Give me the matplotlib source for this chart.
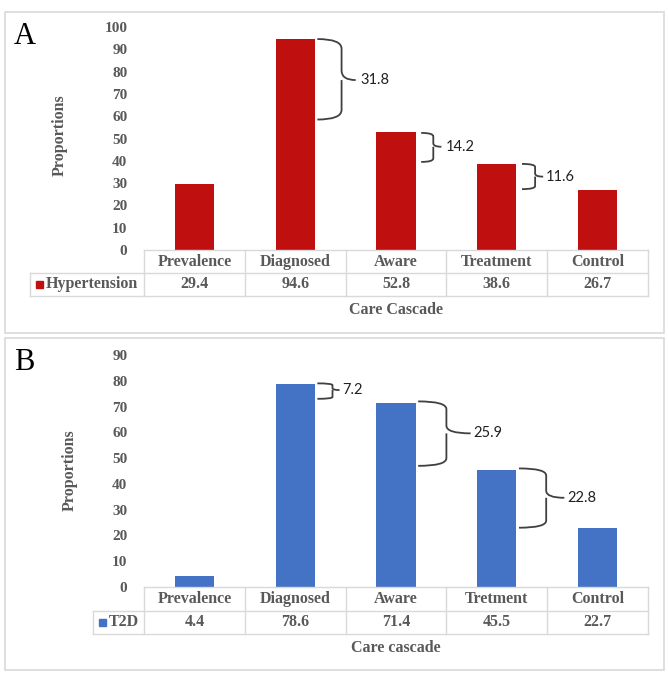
import matplotlib.pyplot as plt
from matplotlib.path import Path
from matplotlib.patches import PathPatch, Rectangle

# Panel A data
stages_a = ["Prevalence", "Diagnosed", "Aware", "Treatment", "Control"]
values_a = [29.4, 94.6, 52.8, 38.6, 26.7]
series_a = "Hypertension"
# braces: (top, bottom, middle) in data units, label
brace_top_a = [94.6, 52.5, 38.6]
brace_bot_a = [58.5, 39.5, 27.3]
brace_mid_a = [76.2, 46.3, 32.9]
brace_lbl_a = ["31.8", "14.2", "11.6"]

# Panel B data
stages_b = ["Prevalence", "Diagnosed", "Aware", "Tretment", "Control"]
values_b = [4.4, 78.6, 71.4, 45.5, 22.7]
series_b = "T2D"
brace_top_b = [79.0, 72.0, 46.0]
brace_bot_b = [73.0, 47.0, 23.0]
brace_mid_b = [76.4, 59.6, 34.6]
brace_lbl_b = ["7.2", "25.9", "22.8"]

W, H = 669, 673
GRAY = "#595959"
LINE = "#D9D9D9"
SERIF = "Liberation Serif"


def px_axes(fig, x0, y0, x1, y1):
    # pixel box (top-left origin) -> figure axes
    return fig.add_axes([x0 / W, 1 - y1 / H, (x1 - x0) / W, (y1 - y0) / H])


def brace(ax, x0, x1, xt, ytop, ybot, ymid, lw=1.3):
    r1 = (ytop - ybot) * 0.12
    verts = [(x0, ytop), (x1, ytop), (x1, ytop - r1),
             (x1, ymid + r1), (x1, ymid), (xt, ymid),
             (x1, ymid), (x1, ymid - r1),
             (x1, ybot + r1), (x1, ybot), (x0, ybot)]
    codes = [Path.MOVETO, Path.CURVE3, Path.CURVE3,
             Path.LINETO, Path.CURVE3, Path.CURVE3,
             Path.MOVETO, Path.CURVE3,
             Path.LINETO, Path.CURVE3, Path.CURVE3]
    ax.add_patch(PathPatch(Path(verts, codes), fill=False, lw=lw,
                           color="#404040", clip_on=False))


def panel(fig, letter, box, ax_box, tab_box, ymax, stages, values, series,
          color, tops, bots, mids, lbls, bx, xlabel, ylab_x, ylab_y, leg_x):
    # panel border
    fig.add_artist(Rectangle((box[0] / W, 1 - box[3] / H),
                             (box[2] - box[0]) / W, (box[3] - box[1]) / H,
                             transform=fig.transFigure, fill=False,
                             ec=LINE, lw=1.2))
    fig.text(14 / W, 1 - box[4] / H, letter, fontsize=22, family=SERIF,
             va="center", ha="left")

    ax = px_axes(fig, *ax_box)
    x = list(range(len(stages)))
    ax.bar(x, values, width=0.39, color=color)
    ax.set_xlim(-0.5, len(stages) - 0.5)
    ax.set_ylim(0, ymax)
    ax.set_yticks(range(0, ymax + 1, 10))
    ax.set_xticks([])
    ax.tick_params(axis="y", length=0, pad=12, labelsize=11, labelcolor=GRAY)
    for t in ax.get_yticklabels():
        t.set_family(SERIF)
        t.set_fontweight("bold")
    for s in ax.spines.values():
        s.set_visible(False)
    fig.text(ylab_x / W, 1 - ylab_y / H, "Proportions", rotation=90,
             fontsize=11.5, family=SERIF, fontweight="bold", color=GRAY,
             ha="center", va="center")

    for i in range(len(tops)):
        x0, x1, xt, xl = bx[i]
        brace(ax, x0, x1, xt, tops[i], bots[i], mids[i])
        ax.text(xl, mids[i], lbls[i], fontsize=10.5, family="Lato",
                va="center", ha="left", color="#202020")

    # data table
    tx = px_axes(fig, *tab_box[:4])
    left = tab_box[4]
    n = len(stages)
    tx.set_xlim(left, n - 0.5)
    tx.set_ylim(0, 2)
    tx.axis("off")
    kw = dict(color=LINE, lw=1.0, clip_on=False)
    tx.plot([-0.5, n - 0.5], [2, 2], **kw)
    tx.plot([left, n - 0.5], [1, 1], **kw)
    tx.plot([left, n - 0.5], [0, 0], **kw)
    tx.plot([left, left], [0, 1], **kw)
    for k in range(n + 1):
        tx.plot([k - 0.5, k - 0.5], [0, 2], **kw)
    tfont = dict(fontsize=11.5, family=SERIF, fontweight="bold", color=GRAY,
                 ha="center", va="center")
    for k in range(n):
        tx.text(k, 1.5, stages[k], **tfont)
        tx.text(k, 0.5, f"{values[k]:.1f}", **tfont)
    mx = left + (leg_x - tab_box[0]) / 100.8
    tx.add_patch(Rectangle((mx, 0.36), 0.065, 0.28,
                           color=color, clip_on=False))
    tx.text(mx + 0.1, 0.5, series, fontsize=11.5, family=SERIF,
            fontweight="bold", color=GRAY, ha="left", va="center")
    fig.text((ax_box[0] + ax_box[2]) / 2 / W, 1 - tab_box[5] / H, xlabel,
             fontsize=11.5, family=SERIF, fontweight="bold", color=GRAY,
             ha="center", va="center")


fig = plt.figure(figsize=(W / 100, H / 100), dpi=100)

panel(fig, "A", (5, 12, 664, 333, 36), (144, 27, 648, 250),
      (30, 250, 648, 296, -1.631, 310), 100, stages_a, values_a, series_a,
      "#C00F0F", brace_top_a, brace_bot_a, brace_mid_a, brace_lbl_a,
      [(1.22, 1.46, 1.60, 1.65), (2.25, 2.37, 2.45, 2.49),
       (3.25, 3.38, 3.46, 3.49)],
      "Care Cascade", 60, 135, 36)

panel(fig, "B", (5, 338, 664, 670, 362), (144, 355, 648, 587),
      (93, 587, 648, 634, -1.006, 648), 90, stages_b, values_b, series_b,
      "#4472C4", brace_top_b, brace_bot_b, brace_mid_b, brace_lbl_b,
      [(1.22, 1.37, 1.44, 1.47), (2.22, 2.50, 2.74, 2.77),
       (3.22, 3.49, 3.67, 3.70)],
      "Care cascade", 70, 470, 99)

fig.savefig("out.png", dpi=100)
